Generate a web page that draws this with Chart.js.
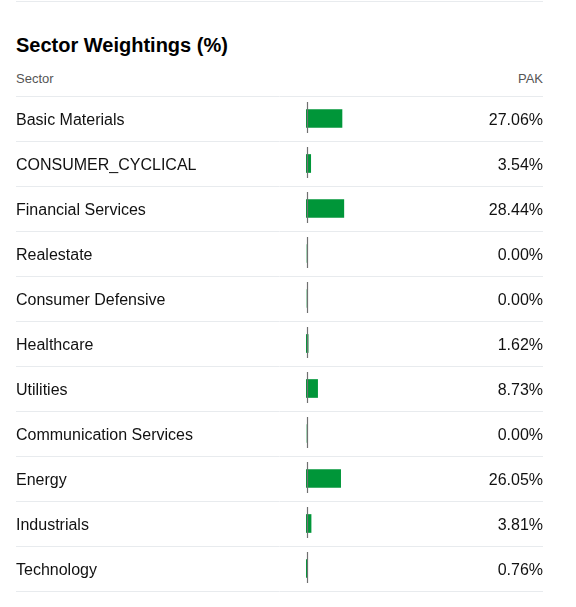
<!DOCTYPE html>
<html>
<head>
<meta charset="utf-8">
<script src="https://cdn.jsdelivr.net/npm/chart.js@4/dist/chart.umd.min.js"></script>
<style>
  body { margin: 0; background: #fff; font-family: 'Liberation Sans', Arial, sans-serif; }
  #wrap { position: relative; width: 576px; height: 607px; }
  #topline { position: absolute; left: 16px; top: 1px; width: 527px; height: 1px; background: #e8ebee; }
  #title { position: absolute; left: 16px; top: 35px; font-size: 20px; line-height: 20px; font-weight: bold; color: #000; }
  .hdr { position: absolute; top: 72px; font-size: 13px; line-height: 13px; color: #555; }
  #chart { position: absolute; left: 0; top: 0; }
</style>
</head>
<body>
<div id="wrap">
  <div id="topline"></div>
  <div id="title">Sector Weightings (%)</div>
  <div class="hdr" style="left:16px">Sector</div>
  <div class="hdr" style="right:33px">PAK</div>
  <canvas id="chart" width="576" height="607"></canvas>
</div>
<script>
const sectors = ["Basic Materials", "CONSUMER_CYCLICAL", "Financial Services", "Realestate", "Consumer Defensive",
  "Healthcare", "Utilities", "Communication Services", "Energy", "Industrials", "Technology"];
const weights = [27.06, 3.54, 28.44, 0, 0, 1.62, 8.73, 0, 26.05, 3.81, 0.76];
const weightLabels = weights.map(w => w.toFixed(2) + "%");

Chart.defaults.font.family = "'Liberation Sans', Arial, sans-serif";

// row separators under the bars, zero marker on top of them
const rowLines = {
  id: "rowLines",
  beforeDatasetsDraw(chart) {
    const ctx = chart.ctx;
    const y = chart.scales.y;
    const half = (y.getPixelForValue(1) - y.getPixelForValue(0)) / 2;
    ctx.save();
    ctx.strokeStyle = "#e8ebee";
    ctx.lineWidth = 1;
    for (let i = 0; i <= sectors.length; i++) {
      const yy = Math.round(y.getPixelForValue(i) - half) + 0.5;
      ctx.beginPath();
      ctx.moveTo(16, yy);
      ctx.lineTo(543, yy);
      ctx.stroke();
    }
    ctx.restore();
  },
  afterDatasetsDraw(chart) {
    const ctx = chart.ctx;
    const y = chart.scales.y;
    const x0 = Math.round(chart.scales.x.getPixelForValue(0)) + 1.5;
    ctx.save();
    ctx.strokeStyle = "#707070";
    ctx.lineWidth = 1.2;
    sectors.forEach((s, i) => {
      const c = y.getPixelForValue(i);
      ctx.beginPath();
      ctx.moveTo(x0, c - 16.5);
      ctx.lineTo(x0, c + 14.5);
      ctx.stroke();
    });
    ctx.restore();
  }
};

new Chart(document.getElementById("chart"), {
  type: "bar",
  data: {
    labels: sectors,
    datasets: [{
      data: weights,
      backgroundColor: "#009639",
      barThickness: 18,
      borderWidth: 0
    }]
  },
  options: {
    indexAxis: "y",
    responsive: false,
    animation: false,
    layout: { padding: { left: 16, right: 33, top: 96, bottom: 16 } },
    plugins: { legend: { display: false }, tooltip: { enabled: false } },
    scales: {
      x: { min: 0, max: 100, display: false },
      y: {
        position: "left",
        grid: { display: false },
        border: { display: false },
        ticks: { crossAlign: "far", padding: 0, labelOffset: 2, color: "#111", font: { size: 16 } },
        afterFit(scale) { scale.width = 290; }
      },
      y2: {
        type: "category",
        position: "right",
        labels: weightLabels,
        offset: true,
        grid: { display: false },
        border: { display: false },
        ticks: { crossAlign: "far", padding: 0, labelOffset: 2, color: "#111", font: { size: 16 } },
        afterFit(scale) { scale.width = 104; }
      }
    }
  },
  plugins: [rowLines]
});
</script>
</body>
</html>
